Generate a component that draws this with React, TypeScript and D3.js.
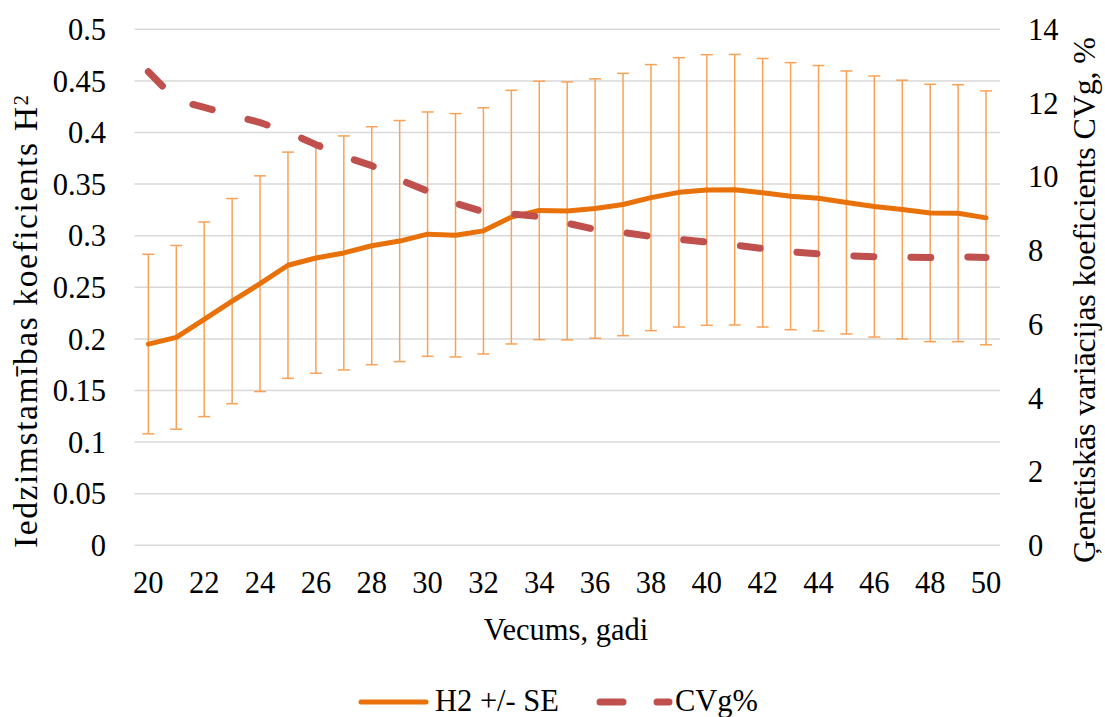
import React from "react";
import * as d3 from "d3";

const ages = [20,21,22,23,24,25,26,27,28,29,30,31,32,33,34,35,36,37,38,39,40,41,42,43,44,45,46,47,48,49,50];
const h2 = [0.195,0.2015,0.219,0.2366,0.2535,0.2714,0.2784,0.2833,0.2903,0.2948,0.3015,0.3004,0.3047,0.318,0.3245,0.324,0.3263,0.3302,0.3369,0.342,0.3443,0.3446,0.3416,0.3383,0.3363,0.3322,0.3283,0.3253,0.322,0.3218,0.3173];
const se = [0.087,0.089,0.0943,0.0994,0.1045,0.1096,0.1117,0.1134,0.1153,0.1168,0.1184,0.1179,0.1193,0.1229,0.1252,0.125,0.1257,0.1271,0.1289,0.1305,0.1311,0.1311,0.1301,0.1294,0.1286,0.1274,0.1265,0.1254,0.1247,0.1245,0.123];
const cvg = [12.85,12.08,11.88,11.67,11.47,11.21,10.87,10.55,10.3,9.92,9.61,9.28,9.05,8.99,8.92,8.74,8.57,8.49,8.38,8.3,8.23,8.15,8.05,7.96,7.91,7.86,7.83,7.82,7.81,7.83,7.81];
const leftTicks = [0,0.05,0.1,0.15,0.2,0.25,0.3,0.35,0.4,0.45,0.5];
const rightTicks = [0,2,4,6,8,10,12,14];
const xTickLabels = [20,22,24,26,28,30,32,34,36,38,40,42,44,46,48,50];

const W = 1105, H = 717;
const FONT = "Liberation Serif";
const FS = 30.5;
const ts: React.CSSProperties = { fontFamily: FONT, fontSize: FS };

export default function App() {
  const x = d3.scalePoint<number>().domain(ages).range([134.4, 1000]).padding(0.5);
  const yL = d3.scaleLinear().domain([0, 0.5]).range([545.3, 29.3]);
  const yR = d3.scaleLinear().domain([0, 14]).range([545.3, 29.3]);

  const h2Line = d3.line<number>().x((_, i) => x(ages[i])!).y((d) => yL(d))(h2)!;
  const cvLine = d3.line<number>().x((_, i) => x(ages[i])!).y((d) => yR(d))(cvg)!;

  const barColor = "#F9A257";
  return (
    <svg width={W} height={H} style={{ position: "absolute", left: 0, top: 0, background: "#fff" }}>
      {leftTicks.map((t) => (
        <line key={"g" + t} x1={134.4} x2={1000} y1={yL(t)} y2={yL(t)} stroke="#D9D9D9" strokeWidth={1.5} />
      ))}
      {leftTicks.map((t) => (
        <text key={"l" + t} x={106} y={yL(t)} dy="0.35em" textAnchor="end" style={ts} fill="#000">{String(t)}</text>
      ))}
      {rightTicks.map((t) => (
        <text key={"r" + t} x={1028} y={yR(t)} dy="0.35em" textAnchor="start" style={ts} fill="#000">{String(t)}</text>
      ))}
      {xTickLabels.map((t) => (
        <text key={"x" + t} x={x(t)} y={593} textAnchor="middle" style={ts} fill="#000">{String(t)}</text>
      ))}
      <text x={566} y={640} textAnchor="middle" style={ts} fill="#000">Vecums, gadi</text>
      <text transform={`translate(37,321.5) rotate(-90)`} textAnchor="middle" style={{ fontFamily: FONT, fontSize: 33.5 }} fill="#000"
        textLength={453} lengthAdjust="spacing">
        Iedzimstamības koeficients H<tspan dy="-0.45em" style={{ fontSize: 21 }}>2</tspan>
      </text>
      <text transform={`translate(1095,300) rotate(-90)`} textAnchor="middle" style={{ fontFamily: FONT, fontSize: 32 }} fill="#000"
        textLength={526} lengthAdjust="spacing">
        Ģenētiskās variācijas koeficients CVg, %
      </text>

      {h2.map((v, i) => {
        const cx = x(ages[i])!;
        const top = yL(v + se[i]);
        const bot = yL(v - se[i]);
        return (
          <g key={"e" + i} stroke={barColor} strokeWidth={1.5}>
            <line x1={cx} x2={cx} y1={top} y2={bot} />
            <line x1={cx - 6} x2={cx + 6} y1={top} y2={top} />
            <line x1={cx - 6} x2={cx + 6} y1={bot} y2={bot} />
          </g>
        );
      })}
      <path d={h2Line} fill="none" stroke="#E8710A" strokeWidth={5} strokeLinejoin="round" strokeLinecap="round" />
      <path d={cvLine} fill="none" stroke="#C0504D" strokeWidth={7} strokeDasharray="20 37" strokeLinecap="round" strokeLinejoin="round" />

      <line x1={361} x2={426} y1={702} y2={702} stroke="#E8710A" strokeWidth={5} strokeLinecap="round" />
      <text x={435} y={711} style={ts} fill="#000">H2 +/- SE</text>
      <line x1={600} x2={669} y1={702} y2={702} stroke="#C0504D" strokeWidth={7} strokeDasharray="23 34" strokeLinecap="round" />
      <text x={675} y={711} style={ts} fill="#000">CVg%</text>
    </svg>
  );
}
